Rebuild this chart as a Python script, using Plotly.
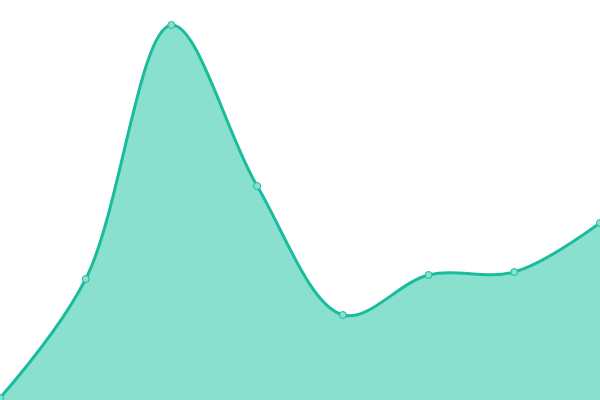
import plotly.graph_objects as go

days = [0, 1, 2, 3, 4, 5, 6, 7]
values = [2, 121, 375, 214, 85, 125, 128, 177]

fig = go.Figure(go.Scatter(
    x=days, y=values, mode='lines+markers',
    line=dict(color='#1abc9c', width=3, shape='spline', smoothing=1),
    marker=dict(size=7, color='#8ae0cf', line=dict(color='#1abc9c', width=1)),
    fill='tozeroy', fillcolor='#89e0cf',
    hoverinfo='skip'))

fig.update_layout(
    width=600, height=400,
    margin=dict(l=0, r=0, t=0, b=0),
    paper_bgcolor='white', plot_bgcolor='white',
    showlegend=False,
    xaxis=dict(visible=False, range=[0, 7]),
    yaxis=dict(visible=False, range=[0, 400]),
)
# drop the default page margin so the chart sits at the window corner
fig.write_html("out.html", config={'displayModeBar': False},
               post_script="document.body.style.margin='0';")
